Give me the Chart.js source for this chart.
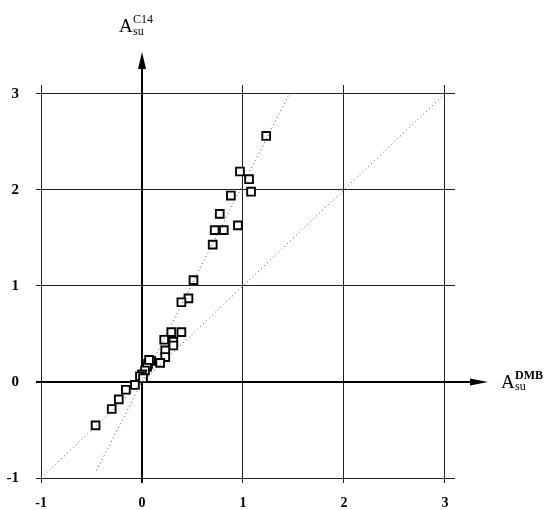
<!DOCTYPE html>
<html>
<head>
  <meta charset="UTF-8">
  <title>A su C14 vs A su DMB</title>
  <script src="https://cdn.jsdelivr.net/npm/chart.js"></script>
  <style>
    body { margin: 0; background: #fff; }
    #wrap { width: 549px; height: 510px; }
  </style>
</head>
<body>
<div id="wrap"><canvas id="chart" width="549" height="510"></canvas></div>
<script>
  // tick labels
  const xTicks = [-1, 0, 1, 2, 3];
  const yTicks = [-1, 0, 1, 2, 3];

  const asuDMB = [1.23, 0.97, 1.06, 1.08, 0.88, 0.77, 0.95, 0.72, 0.81, 0.70,
                  0.51, 0.46, 0.39, 0.29, 0.39, 0.22, 0.31, 0.31, 0.23, 0.23,
                  0.18, 0.09, 0.06, 0.05, 0.07, 0.03, 0.00, -0.02, 0.01, -0.07,
                  -0.16, -0.23, -0.30, -0.46];
  const asuC14 = [2.56, 2.19, 2.11, 1.98, 1.94, 1.75, 1.63, 1.58, 1.58, 1.43,
                  1.06, 0.87, 0.83, 0.52, 0.52, 0.44, 0.42, 0.38, 0.33, 0.26,
                  0.20, 0.22, 0.19, 0.16, 0.23, 0.12, 0.08, 0.06, 0.04, -0.03,
                  -0.08, -0.18, -0.28, -0.45];

  // dotted reference lines
  const diagX = [-1, 3];
  const diagY = [-1, 3];
  const steepX = [-0.45, 1.46];
  const steepY = [-0.92, 3];

  const toXY = (xs, ys) => xs.map((x, i) => ({ x: x, y: ys[i] }));

  // thick axes through the origin, arrows and axis titles
  const axesPlugin = {
    id: 'axesPlugin',
    beforeDatasetsDraw(chart) {
      const ctx = chart.ctx;
      const xs = chart.scales.x, ys = chart.scales.y;
      const x0 = xs.getPixelForValue(0), y0 = ys.getPixelForValue(0);
      const a = chart.chartArea;
      ctx.save();
      ctx.strokeStyle = '#000';
      ctx.lineWidth = 2;
      ctx.beginPath();
      ctx.moveTo(x0, a.bottom);
      ctx.lineTo(x0, 60);
      ctx.moveTo(a.left, y0);
      ctx.lineTo(478, y0);
      ctx.stroke();
      ctx.restore();
    },
    afterDraw(chart) {
      const ctx = chart.ctx;
      const xs = chart.scales.x, ys = chart.scales.y;
      const x0 = xs.getPixelForValue(0), y0 = ys.getPixelForValue(0);
      ctx.save();
      ctx.fillStyle = '#000';
      // y arrow
      ctx.beginPath();
      ctx.moveTo(x0, 52);
      ctx.lineTo(x0 - 4, 69);
      ctx.lineTo(x0 + 4, 69);
      ctx.closePath();
      ctx.fill();
      // x arrow
      ctx.beginPath();
      ctx.moveTo(488, y0);
      ctx.lineTo(470, y0 - 3.5);
      ctx.lineTo(470, y0 + 3.5);
      ctx.closePath();
      ctx.fill();

      // titles
      ctx.textBaseline = 'alphabetic';
      ctx.textAlign = 'left';
      ctx.font = '19px "Liberation Serif"';
      ctx.fillText('A', 119, 32);
      ctx.font = '12px "Liberation Serif"';
      ctx.fillText('C14', 133, 23);
      ctx.fillText('su', 133, 35);

      ctx.font = '19px "Liberation Serif"';
      ctx.fillText('A', 501, 388);
      ctx.font = 'bold 12px "Liberation Serif"';
      ctx.fillText('DMB', 515, 379);
      ctx.font = '12px "Liberation Serif"';
      ctx.fillText('su', 515, 390);
      ctx.restore();
    }
  };

  new Chart(document.getElementById('chart'), {
    type: 'scatter',
    data: {
      datasets: [
        {
          type: 'line',
          data: toXY(diagX, diagY),
          borderColor: '#555',
          borderWidth: 1,
          borderDash: [1, 3],
          pointRadius: 0,
          fill: false
        },
        {
          type: 'line',
          data: toXY(steepX, steepY),
          borderColor: '#555',
          borderWidth: 1,
          borderDash: [1, 3],
          pointRadius: 0,
          fill: false
        },
        {
          data: toXY(asuDMB, asuC14),
          pointStyle: 'rect',
          pointRadius: 5.5,
          pointBorderWidth: 1.9,
          borderColor: '#000',
          backgroundColor: '#fff'
        }
      ]
    },
    options: {
      responsive: false,
      animation: false,
      layout: { padding: { top: 85, right: 94, left: 0, bottom: 0 } },
      plugins: { legend: { display: false }, tooltip: { enabled: false } },
      scales: {
        x: {
          type: 'linear',
          min: -1.05,
          max: 3.1,
          afterBuildTicks: s => { s.ticks = xTicks.map(v => ({ value: v })); },
          afterFit: s => { s.height = 27; },
          border: { display: false },
          grid: { color: '#222', lineWidth: 1, drawTicks: false },
          ticks: {
            padding: 12,
            color: '#000',
            font: { family: 'Liberation Serif', size: 14, weight: 'bold' }
          }
        },
        y: {
          type: 'linear',
          min: -1.05,
          max: 3.09,
          afterBuildTicks: s => { s.ticks = yTicks.map(v => ({ value: v })); },
          afterFit: s => { s.width = 36; },
          border: { display: false },
          grid: { color: '#222', lineWidth: 1, drawTicks: false },
          ticks: {
            padding: 17,
            color: '#000',
            font: { family: 'Liberation Serif', size: 15, weight: 'bold' }
          }
        }
      }
    },
    plugins: [axesPlugin]
  });
</script>
</body>
</html>
